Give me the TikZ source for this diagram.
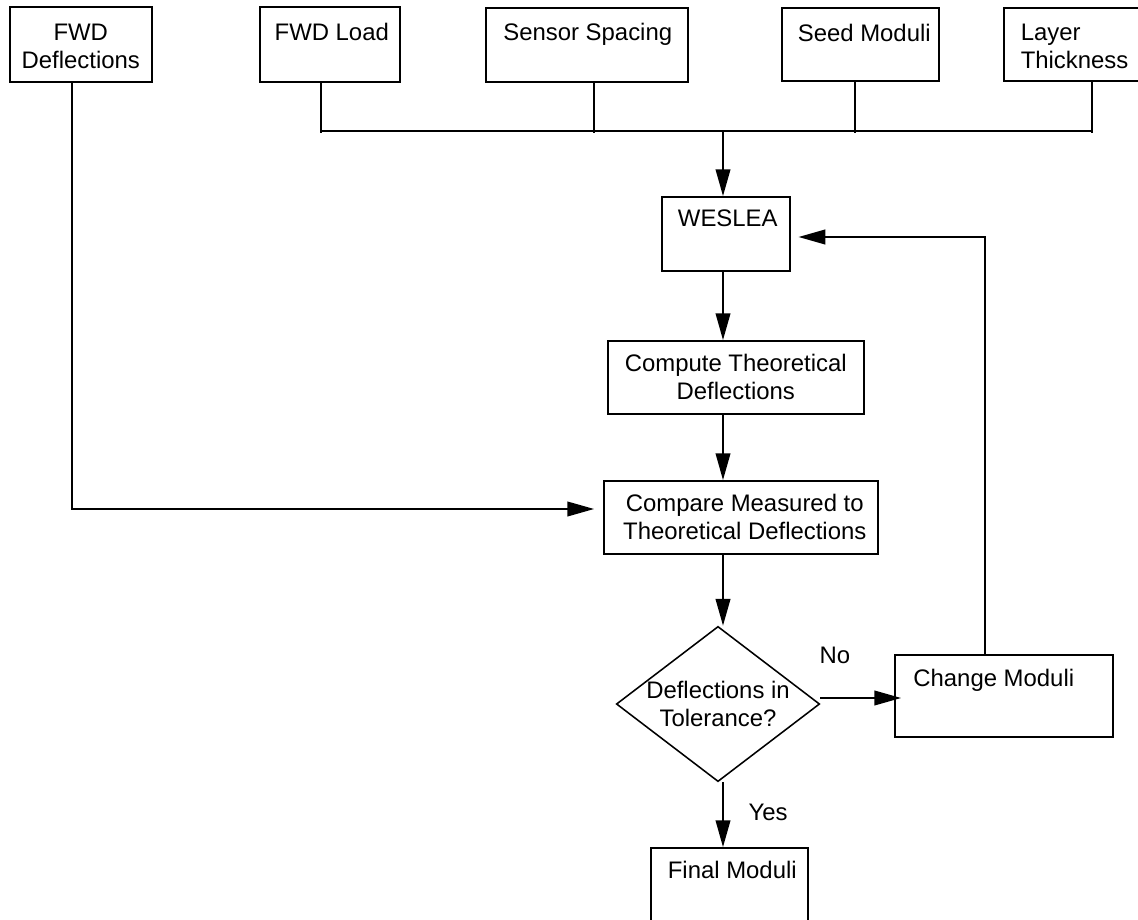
\documentclass[tikz,border=0pt]{standalone}
\usepackage{fontspec}
\setmainfont{Liberation Sans}
\usetikzlibrary{arrows.meta, shapes.geometric}

\begin{document}
\begin{tikzpicture}[x=0.025cm, y=-0.025cm,
    font=\fontsize{17}{20}\selectfont,
    line width=1.1pt,
    box/.style={draw, rectangle, inner sep=0pt, anchor=north west},
    txt/.style={inner sep=0pt, align=center},
    arr/.style={-{Triangle[length=19pt, width=10.5pt]}}]
    \def\px{0.025cm}  % one pixel of the layout
    \useasboundingbox (0,0) rectangle (1138,920);

    % Inputs along the top
    \node[box, minimum width=142*\px, minimum height=75*\px,
      label={[txt, anchor=north, yshift=-17*\px]north:FWD\\Deflections}] (fwddefl) at (9,6) {};
    \node[box, minimum width=140*\px, minimum height=75*\px,
      label={[txt, anchor=north, xshift=2*\px, yshift=-16*\px]north:FWD Load}] (fwdload) at (259,6) {};
    \node[box, minimum width=202*\px, minimum height=74*\px,
      label={[txt, anchor=north, xshift=1*\px, yshift=-15*\px]north:Sensor Spacing}] (spacing) at (485,7) {};
    \node[box, minimum width=157*\px, minimum height=73*\px,
      label={[txt, anchor=north, xshift=4*\px, yshift=-16*\px]north:Seed Moduli}] (seed) at (781,7) {};
    \node[box, minimum width=136*\px, minimum height=73*\px,
      label={[txt, align=left, anchor=north west, xshift=17*\px, yshift=-16*\px]north west:Layer\\Thickness}] (layer) at (1003,7) {};

    % Main column
    \node[box, minimum width=128*\px, minimum height=74*\px,
      label={[txt, anchor=north, xshift=2*\px, yshift=-13*\px]north:WESLEA}] (weslea) at (661,196) {};
    \node[box, minimum width=256*\px, minimum height=73*\px,
      label={[txt, anchor=north, yshift=-13*\px]north:Compute Theoretical\\Deflections}] (compute) at (607,340) {};
    \node[box, minimum width=274*\px, minimum height=73*\px,
      label={[txt, anchor=north, xshift=4*\px, yshift=-13*\px]north:Compare Measured to\\Theoretical Deflections}] (compare) at (603,480) {};
    \node[draw, diamond, aspect=1.31, inner sep=0pt, align=center,
      minimum width=202*\px, minimum height=154*\px] (tol) at (718,704) {Deflections in\\Tolerance?};
    \node[box, minimum width=218*\px, minimum height=82*\px,
      label={[txt, anchor=north, xshift=-10*\px, yshift=-14*\px]north:Change Moduli}] (change) at (894,654) {};
    \node[box, minimum width=157*\px, minimum height=75*\px,
      label={[txt, anchor=north, xshift=3*\px, yshift=-13*\px]north:Final Moduli}] (final) at (650,847) {};

    \node[txt] (no) at (835,655) {No};
    \node[txt] (yes) at (768,812) {Yes};

    % Junctions
    \coordinate (spine) at (723,0);
    \coordinate (jmid) at (723,131);
    \coordinate (jdefl) at (72,509);
    \coordinate (jno) at (0,698);
    \coordinate (fb) at (985,237);

    % Bus from the inputs
    \foreach \b/\x in {fwdload/321, spacing/594, seed/855, layer/1092} {
      \coordinate (j\b) at (\x,131);
      \draw (j\b |- \b.south) -- ([yshift=-2*\px]j\b);
    }
    \draw (jfwdload) -- (jlayer);
    \draw[arr] (jmid) -- (weslea.north -| spine);

    % Flow
    \draw[arr] (weslea.south -| spine) -- (compute.north -| spine);
    \draw[arr] (compute.south -| spine) -- (compare.north -| spine);
    \draw[arr, shorten >=6.4pt] (fwddefl.south -| jdefl) -- (jdefl) -- (compare.west |- jdefl);
    \draw[arr] (compare.south -| spine) -- (tol.north -| spine);
    \draw[arr, shorten >=-5pt] (tol.east |- jno) -- (change.west |- jno);
    \draw[arr] (tol.south -| spine) -- (final.north -| spine);
    \draw[arr, shorten >=5.7pt] (change.north -| fb) -- (fb) -- (weslea.east |- fb);
\end{tikzpicture}
\end{document}
